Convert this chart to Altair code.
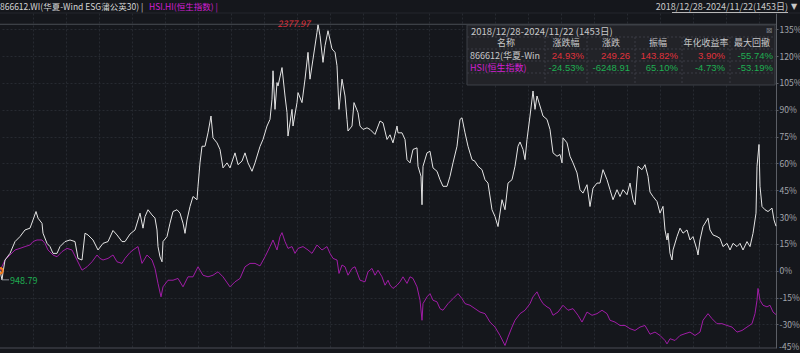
import altair as alt
import pandas as pd

# ---------------- data ----------------
# time position (0..776 = 2018/12/28 .. 2024/11/22), cumulative return in %
FUND = [
    (0, 0), (2, -5.1), (3, -1.0), (5, 6.0), (10, 9.7), (15, 16.3), (20, 19.1), (25, 22.8), (30, 23.8),
    (33, 28.4), (36, 33.1), (38, 29.4), (42, 26.5), (43, 21.0), (47, 15.3), (50, 13.5), (53, 9.7),
    (57, 9.7), (60, 13.5), (65, 16.3), (70, 17.2), (75, 16.3), (78, 6.9), (82, 6.0), (85, 21.0),
    (88, 20.0), (93, 17.2), (98, 11.6), (103, 15.3), (108, 16.3), (113, 22.5), (117, 20.0),
    (122, 16.3), (125, 16.3),
    (130, 20.5), (135, 22.8), (138, 28.4), (140, 32.2), (143, 23.8), (145, 30.3), (148, 34.1),
    (152, 31.2), (155, 29.4), (157, 22.8), (158, 13.5), (160, 7.8), (162, 5.0), (163, 16.3),
    (167, 19.1), (170, 26.6), (173, 33.1), (177, 34.1), (180, 32.2), (183, 26.6), (185, 20.9),
    (187, 28.4), (190, 35.9), (193, 41.5), (197, 39.7), (198, 47.2), (200, 60.3), (202, 69.6),
    (205, 69.6), (208, 77.1), (211, 86.5), (213, 74.3), (217, 71.5), (220, 67.8), (223, 57.5),
    (227, 60.3), (230, 57.5), (235, 65.9), (238, 59.3), (242, 61.3), (245, 65.9), (248, 60.3),
    (252, 55.6), (255, 60.3),
    (260, 69.5), (263, 73.4), (267, 80.9), (270, 84.6), (272, 95.9), (273, 111.8), (275, 90.2),
    (277, 105.2), (278, 103.3), (282, 113.6), (285, 97.7), (287, 88.4), (288, 75.3), (292, 90.2),
    (293, 80.9), (297, 94.0), (298, 99.6), (302, 94.0), (305, 107.1), (308, 122.1), (310, 107.1),
    (313, 118.3), (317, 133.3), (318, 137.8), (320, 131.4), (323, 116.5), (325, 125.8), (328, 134.2),
    (332, 124.0), (335, 122.1), (337, 114.6), (339, 90.2), (342, 107.1), (345, 97.7), (347, 84.6),
    (348, 78.1), (352, 80.9), (354, 94.0), (358, 88.4), (360, 80.9), (363, 79.0), (367, 79.9),
    (370, 79.0), (375, 76.2), (380, 83.7), (383, 82.7), (387, 73.4),
    (390, 76.0), (393, 71.5), (397, 80.9), (398, 77.1), (402, 77.1), (405, 73.4), (407, 62.1),
    (410, 60.3), (413, 67.8), (417, 68.7), (418, 58.4), (421, 52.8), (422, 36.9), (423, 58.4),
    (427, 65.9), (430, 66.8), (433, 57.5), (437, 55.6), (440, 50.9), (443, 47.2), (447, 47.2),
    (450, 52.8), (453, 60.3), (457, 69.6), (460, 84.6), (462, 85.5), (465, 77.1), (468, 69.6),
    (472, 62.1), (475, 61.2), (478, 58.4), (482, 56.5), (485, 50.9), (488, 49.0), (492, 34.1),
    (495, 30.3), (498, 24.7), (502, 39.7), (505, 34.1), (508, 49.0), (512, 50.9), (515, 58.4),
    (518, 69.6),
    (520, 72.0), (523, 67.8), (525, 62.1), (527, 73.4), (530, 86.5), (533, 100.5), (535, 90.2),
    (537, 97.7), (540, 92.1), (543, 86.5), (547, 84.6), (550, 79.0), (553, 65.9), (557, 64.0),
    (560, 65.0), (562, 60.3), (563, 74.3), (567, 71.5), (570, 64.0), (573, 60.3), (577, 54.7),
    (580, 45.3), (583, 43.4), (587, 48.1), (590, 35.9), (593, 46.2), (597, 49.0), (600, 49.0),
    (603, 56.5), (607, 50.9), (610, 45.3), (613, 39.7), (617, 45.3), (620, 41.5), (623, 45.3),
    (627, 42.5), (630, 49.0), (633, 39.7), (635, 36.9), (638, 58.4), (642, 56.5), (645, 59.3),
    (648, 52.8),
    (650, 44.0), (653, 41.5), (657, 38.7), (660, 32.2), (663, 36.0), (665, 22.8), (667, 17.2),
    (668, 21.0), (670, 9.7), (672, 6.0), (673, 11.6), (677, 19.1), (680, 23.8), (683, 21.0),
    (687, 22.8), (690, 17.2), (693, 19.1), (697, 11.6), (698, 8.8), (700, 17.2), (703, 24.7),
    (707, 28.4), (708, 29.4), (710, 22.8), (713, 20.0), (717, 19.1), (720, 18.1), (723, 13.5),
    (727, 15.3), (730, 11.6), (733, 15.3), (737, 13.5), (740, 15.3), (743, 11.6), (747, 16.3),
    (750, 13.5), (753, 20.9), (756, 32.2), (757, 58.4), (759, 70.6), (760, 47.2), (762, 35.9),
    (765, 34.1), (768, 33.1), (772, 35.0), (774, 28.4), (776, 24.9),
]

HSI = [
    (0, 0), (5, 6.0), (10, 8.8), (15, 11.6), (20, 12.5), (25, 13.5), (30, 14.4), (33, 16.3),
    (37, 17.2), (42, 17.2), (45, 15.3), (48, 11.6), (53, 8.8), (57, 7.8), (62, 10.7), (67, 12.5),
    (72, 11.6), (77, 6.0), (82, 0.3), (87, 2.2), (92, 5.0), (97, 8.8), (100, 6.9), (103, 6.0),
    (108, 6.9), (113, 8.8), (117, 5.0), (122, 4.1), (125, 6.9),
    (130, 10.2), (133, 11.6), (138, 13.5), (142, 4.1), (147, 8.8), (152, 6.0), (155, 1.3),
    (158, -7.1), (161, -14.6), (163, -9.0), (168, -5.3), (173, -5.3), (178, -4.3), (183, -9.0),
    (188, -3.4), (193, -3.4), (198, 2.2), (203, -2.5), (208, -3.4), (213, -2.5), (218, -0.6),
    (223, -3.4), (230, -9.0), (235, -6.2), (240, -4.3), (245, 2.2), (250, 4.1), (255, 4.1),
    (260, 2.7), (265, 7.8), (270, 13.5), (273, 17.2), (277, 11.6), (280, 19.1), (282, 21.3),
    (285, 16.3), (288, 12.5), (292, 13.5), (295, 9.7), (298, 12.5), (303, 13.5), (308, 11.6),
    (312, 9.7), (317, 14.4), (322, 11.6), (327, 13.5), (330, 9.7), (333, 6.9), (337, 6.0),
    (339, -1.5), (342, 3.2), (345, 2.2), (348, -2.5), (352, 1.3), (355, 2.2), (360, -5.3),
    (365, -6.2), (368, -0.6), (372, 1.3), (375, -2.5), (378, 0.3), (382, -3.4), (385, -8.1),
    (388, -5.3),
    (390, -8.0), (393, -9.9), (397, -8.1), (400, -6.2), (403, -3.4), (407, -7.1), (410, -3.4),
    (413, -4.3), (417, -9.0), (420, -16.5), (422, -27.7), (423, -18.4), (427, -14.6), (430, -12.8),
    (433, -16.5), (437, -17.4), (440, -21.2), (443, -22.1), (448, -18.4), (453, -15.6),
    (458, -12.8), (462, -15.6), (465, -18.4), (470, -19.3), (475, -21.2), (480, -23.1),
    (485, -24.0), (490, -28.7), (495, -31.5), (500, -36.2), (505, -41.8), (508, -37.1),
    (512, -31.5), (515, -27.7),
    (520, -24.0), (525, -22.1), (530, -18.4), (533, -14.6), (537, -11.8), (540, -15.6),
    (543, -18.4), (547, -20.2), (550, -21.2), (553, -24.9), (558, -23.1), (563, -19.3),
    (568, -22.1), (573, -21.2), (578, -24.9), (582, -28.7), (587, -23.1), (592, -24.9),
    (597, -24.0), (602, -22.1), (607, -24.0), (610, -27.7), (615, -28.7), (620, -30.6),
    (625, -30.6), (630, -32.4), (635, -33.4), (640, -31.5), (645, -30.6),
    (650, -35.5), (655, -34.3), (660, -36.2), (665, -39.0), (667, -40.9), (670, -38.0),
    (675, -39.0), (680, -36.2), (685, -35.2), (690, -34.3), (695, -36.2), (700, -34.3),
    (703, -27.7), (708, -24.0), (712, -26.8), (717, -29.6), (722, -29.6), (727, -30.6),
    (732, -31.5), (737, -34.3), (742, -33.4), (747, -31.5), (752, -29.6), (755, -24.0),
    (757, -16.5), (758, -9.9), (760, -16.5), (763, -19.3), (767, -20.2), (770, -19.3),
    (773, -23.1), (776, -24.5),
]

MAX_LABEL = "2377.97"
MAX_PCT = 137.8
MAX_T = 318
MIN_LABEL = "948.79"
MIN_PCT = -5.1

Y_TICKS = [135, 120, 105, 90, 75, 60, 45, 30, 15, 0, -15, -30]
Y_BOTTOM_LABEL = "-45%"

HEAD_FUND = "866612.WI(华夏-Wind ESG蒲公英30) |"
HEAD_HSI = "HSI.HI(恒生指数) |"
HEAD_RANGE = "2018/12/28-2024/11/22(1453日)"

TABLE_TITLE = "2018/12/28-2024/11/22 (1453日)"
TABLE_HEAD = ["名称", "涨跌幅", "涨跌", "振幅", "年化收益率", "最大回撤"]
ROW_NAMES = ["866612(华夏-Wind", "HSI(恒生指数)"]
ROW_FUND = ["24.93%", "249.26", "143.82%", "3.90%", "-55.74%"]
ROW_HSI = ["-24.53%", "-6248.91", "65.10%", "-4.73%", "-53.19%"]

# ---------------- style / layout ----------------
FONT = "Noto Sans CJK SC"
NUM_FONT = "Liberation Sans"
BG = "#15171c"
GRID = "#272a31"
AXIS = "#5c5f66"
LABEL = "#a3a6ad"
WHITE = "#e4e4e4"
PURPLE = "#a01ca6"
MAGENTA = "#d21fd2"
RED = "#e0323c"
GREEN = "#1fae52"
ORANGE = "#f07a1e"

W, H = 776, 335
YDOM = [-43.2, 144.1]
xs = alt.Scale(domain=[0, 776], nice=False, zero=False)
ys = alt.Scale(domain=YDOM, nice=False, zero=False)
XGRID = list(range(33, 776, 33))

ROW_COLORS = [
    [RED, RED, RED, RED, GREEN],
    [GREEN, GREEN, GREEN, GREEN, GREEN],
]
COL_CENTER = [506, 566, 611, 658, 706, 752]
COL_RIGHT = [584, 630, 678, 725, 773]
ROW_Y = [42.5, 54.8]

fund_df = pd.DataFrame(FUND, columns=["t", "pct"])
hsi_df = pd.DataFrame(HSI, columns=["t", "pct"])

hsi_line = alt.Chart(hsi_df).mark_line(color=PURPLE, strokeWidth=1).encode(
    x=alt.X("t:Q", scale=xs, axis=alt.Axis(values=XGRID, labels=False, ticks=False, domain=False,
                                           grid=True, gridColor=GRID, gridDash=[2, 2], title=None)),
    y=alt.Y("pct:Q", scale=ys, axis=alt.Axis(orient="right", values=Y_TICKS,
                                             labelExpr="datum.value + '%'", grid=True,
                                             gridColor=GRID, gridDash=[2, 2], title=None,
                                             domainColor=AXIS, tickColor=AXIS, tickSize=2,
                                             labelPadding=1, labelColor=LABEL, labelFont=FONT,
                                             labelFontSize=8.5)),
)

fund_line = alt.Chart(fund_df).mark_line(color=WHITE, strokeWidth=1).encode(
    x=alt.X("t:Q", scale=xs, axis=None),
    y=alt.Y("pct:Q", scale=ys, axis=None),
)

# max reference line + label, min label
max_line = alt.Chart(pd.DataFrame({"pct": [MAX_PCT]})).mark_rule(color="#4a4d54", strokeWidth=1).encode(
    x=alt.value(0), x2=alt.value(W), y=alt.Y("pct:Q", scale=ys, axis=None))
max_text = alt.Chart(pd.DataFrame({"t": [MAX_T], "pct": [MAX_PCT], "s": [MAX_LABEL]})).mark_text(
    font=FONT, fontSize=9, color=RED, align="right", baseline="middle", dx=-8, fontStyle="italic").encode(
    x=alt.X("t:Q", scale=xs, axis=None), y=alt.Y("pct:Q", scale=ys, axis=None), text="s:N")

min_df = pd.DataFrame({"t": [0], "pct": [MIN_PCT], "s": [MIN_LABEL]})
min_text = alt.Chart(min_df).mark_text(font=FONT, fontSize=9, color=GREEN, align="left",
                                       baseline="middle", dx=10, dy=1).encode(
    x=alt.X("t:Q", scale=xs, axis=None), y=alt.Y("pct:Q", scale=ys, axis=None), text="s:N")
min_lead = alt.Chart(min_df).mark_rule(color="#8a8d94", strokeWidth=1).encode(
    x=alt.value(2), x2=alt.value(9), y=alt.Y("pct:Q", scale=ys, axis=None))
start_pt = alt.Chart(pd.DataFrame({"t": [0], "pct": [0]})).mark_point(
    shape="circle", size=28, stroke=ORANGE, strokeWidth=2, filled=False, opacity=1, dx=2).encode(
    x=alt.X("t:Q", scale=xs, axis=None), y=alt.Y("pct:Q", scale=ys, axis=None))

# frame lines
frame_df = pd.DataFrame({"px": [0, 0], "px2": [800, W], "py": [0, H], "py2": [0, H],
                         "c": ["#24272d", "#4a4d54"]})
frame = alt.Chart(frame_df).mark_rule(strokeWidth=1).encode(
    x=alt.X("px:Q", scale=None), x2="px2:Q", y=alt.Y("py:Q", scale=None), y2="py2:Q",
    color=alt.Color("c:N", scale=None))

bottom_lab = alt.Chart(pd.DataFrame({"s": [Y_BOTTOM_LABEL]})).mark_text(
    font=FONT, fontSize=8.5, color=LABEL, align="left", baseline="middle").encode(
    x=alt.value(W + 3), y=alt.value(H - 1), text="s:N")

# header
head_df = pd.DataFrame({
    "s": [HEAD_FUND, HEAD_HSI, HEAD_RANGE, "▼"],
    "px": [0, 149, 788, 794],
    "py": [-6, -6, -6, -6],
    "c": ["#d6d6d6", MAGENTA, "#c8c8c8", "#c8c8c8"],
})
header_left = alt.Chart(head_df.iloc[:2]).mark_text(font=FONT, fontSize=8.5, align="left",
                                                    baseline="middle").encode(
    x=alt.X("px:Q", scale=None), y=alt.Y("py:Q", scale=None), text="s:N",
    color=alt.Color("c:N", scale=None))
header_right = alt.Chart(head_df.iloc[2:3]).mark_text(font=FONT, fontSize=9, align="right",
                                                      baseline="middle").encode(
    x=alt.X("px:Q", scale=None), y=alt.Y("py:Q", scale=None), text="s:N",
    color=alt.Color("c:N", scale=None))
header_tri = alt.Chart(head_df.iloc[3:4]).mark_text(font="DejaVu Sans", fontSize=8, align="center",
                                                    baseline="middle").encode(
    x=alt.X("px:Q", scale=None), y=alt.Y("py:Q", scale=None), text="s:N",
    color=alt.Color("c:N", scale=None))
underline = alt.Chart(pd.DataFrame({"px": [672], "px2": [788], "py": [-0.5]})).mark_rule(
    color="#b8b8b8", strokeWidth=1).encode(
    x=alt.X("px:Q", scale=None), x2="px2:Q", y=alt.Y("py:Q", scale=None))

# stats table
box = alt.Chart(pd.DataFrame({"px": [467], "px2": [775], "py": [12], "py2": [72]})).mark_rect(
    fill="#222328", stroke="#3d4046", strokeWidth=1).encode(
    x=alt.X("px:Q", scale=None), x2="px2:Q", y=alt.Y("py:Q", scale=None), y2="py2:Q")

hsep = pd.DataFrame({"px": [467] * 4, "px2": [775] * 4, "py": [24, 36, 48, 60]})
hsep["py2"] = hsep["py"]
vx = [545, 587, 635, 682, 730]
vsep = pd.DataFrame({"px": vx, "px2": vx, "py": [24] * 5, "py2": [72] * 5})
seps = alt.Chart(pd.concat([hsep, vsep])).mark_rule(color="#3a3d44", strokeWidth=1,
                                                     strokeDash=[2, 2]).encode(
    x=alt.X("px:Q", scale=None), x2="px2:Q", y=alt.Y("py:Q", scale=None), y2="py2:Q")

title_t = alt.Chart(pd.DataFrame({"s": [TABLE_TITLE]})).mark_text(
    font=FONT, fontSize=9.5, color="#c8c8c8", align="left", baseline="middle").encode(
    x=alt.value(471), y=alt.value(18.5), text="s:N")
close_t = alt.Chart(pd.DataFrame({"s": ["⊠"]})).mark_text(
    font="DejaVu Sans", fontSize=8, color="#7a7d84", align="center", baseline="middle").encode(
    x=alt.value(769), y=alt.value(18), text="s:N")

head_rows = pd.DataFrame({"s": TABLE_HEAD, "px": COL_CENTER, "py": [29.8] * 6})
head_t = alt.Chart(head_rows).mark_text(font=FONT, fontSize=9, color="#c8c8c8", align="center",
                                        baseline="middle").encode(
    x=alt.X("px:Q", scale=None), y=alt.Y("py:Q", scale=None), text="s:N")

name_rows = pd.DataFrame({"s": ROW_NAMES, "px": [470, 470], "py": ROW_Y, "c": ["#c8c8c8", MAGENTA]})
name_t = alt.Chart(name_rows).mark_text(font=FONT, fontSize=9, align="left", baseline="middle",
                                        limit=74, ellipsis="\u200b").encode(
    x=alt.X("px:Q", scale=None), y=alt.Y("py:Q", scale=None), text="s:N",
    color=alt.Color("c:N", scale=None))

val_records = []
for ri, row in enumerate([ROW_FUND, ROW_HSI]):
    for ci, v in enumerate(row):
        val_records.append({"s": v, "px": COL_RIGHT[ci], "py": ROW_Y[ri], "c": ROW_COLORS[ri][ci]})
val_t = alt.Chart(pd.DataFrame(val_records)).mark_text(font=NUM_FONT, fontSize=9.5, align="right",
                                                        baseline="middle").encode(
    x=alt.X("px:Q", scale=None), y=alt.Y("py:Q", scale=None), text="s:N",
    color=alt.Color("c:N", scale=None))

chart = alt.layer(
    hsi_line, fund_line, max_line, frame, max_text, min_lead, min_text, start_pt, bottom_lab,
    header_left, header_right, header_tri, underline,
    box, seps, title_t, close_t, head_t, name_t, val_t,
).resolve_scale(x="independent", y="independent").properties(
    width=W, height=H,
    padding={"left": 0, "top": 13, "right": 24, "bottom": 5},
    autosize=alt.AutoSizeParams(type="none"),
    background=BG,
).configure_view(stroke=None)

chart.save("out.html", embed_options={"renderer": "svg", "actions": False})
